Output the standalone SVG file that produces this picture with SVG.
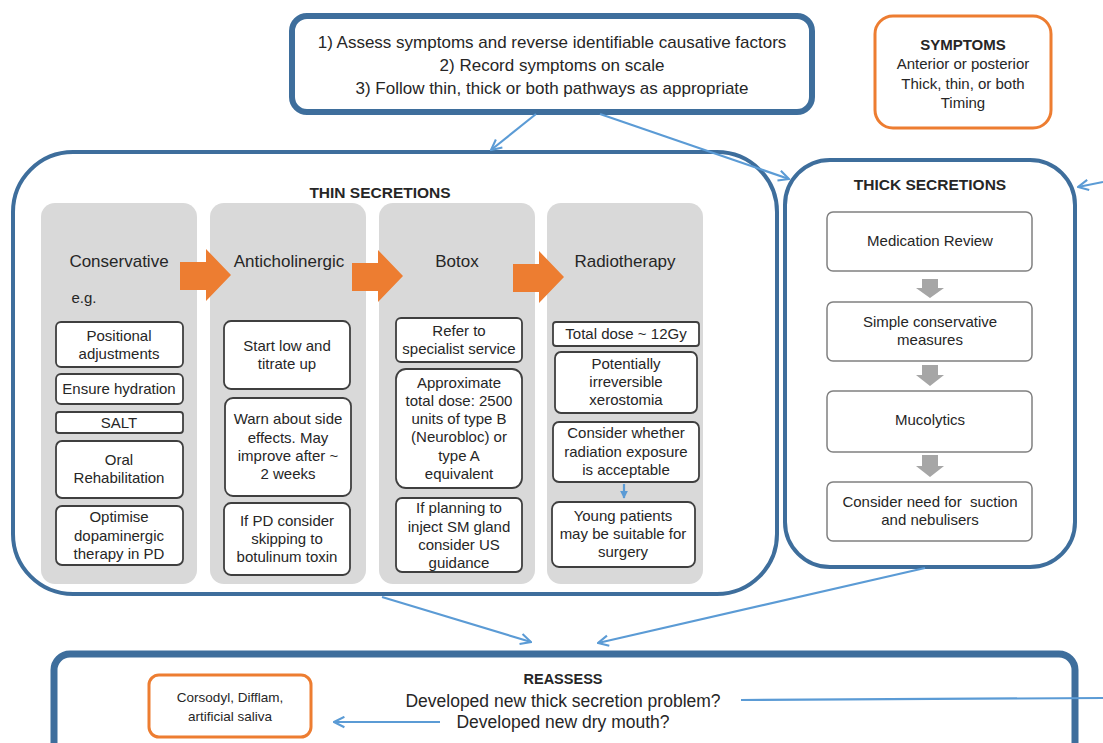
<svg xmlns="http://www.w3.org/2000/svg" width="1103" height="743" viewBox="0 0 1103 743">
<defs>
<style>
text{font-family:"Liberation Sans",Arial,sans-serif;fill:#262626;text-anchor:middle}
.big{font-size:17px}
.sym{font-size:15px}
.b{font-weight:bold}
.col{font-size:17px}
.in{font-size:15px}
.sm{font-size:13.5px}
.navy{fill:#fff;stroke:#3e6e9c}
.orng{fill:#fff;stroke:#ed7d31;stroke-width:3}
.grey{fill:#d9d9d9;stroke:none}
.ib{fill:#fff;stroke:#3f3f3f;stroke-width:1.8}
.tb{fill:#fff;stroke:#808080;stroke-width:1.5}
.con{fill:none;stroke:#5b9bd5;stroke-width:2.2}
.oa{fill:#ed7d31}
.ga{fill:#a6a6a6}
</style>
<marker id="ah" viewBox="0 0 10 10" refX="9" refY="5" markerWidth="13" markerHeight="13" markerUnits="userSpaceOnUse" orient="auto">
<path d="M1,1 L9,5 L1,9" fill="none" stroke="#5b9bd5" stroke-width="1.6"/>
</marker>
<marker id="ahf" viewBox="0 0 10 10" refX="9" refY="5" markerWidth="8" markerHeight="8" markerUnits="userSpaceOnUse" orient="auto">
<path d="M0,0 L10,5 L0,10 Z" fill="#5b9bd5"/>
</marker>
<path id="oarrow" d="M0,13 L26,13 L26,0 L51,26 L26,52 L26,41 L0,41 Z"/>
</defs>

<g id="top">
<rect class="navy" x="292" y="16" width="520" height="96" rx="15" stroke-width="6"/>
<text class="big" x="552" y="48">1) Assess symptoms and reverse identifiable causative factors</text>
<text class="big" x="552" y="71">2) Record symptoms on scale</text>
<text class="big" x="552" y="94">3) Follow thin, thick or both pathways as appropriate</text>
</g>

<g id="symptoms">
<rect class="orng" x="875" y="16" width="176" height="112" rx="18"/>
<text class="sym b" x="963" y="50">SYMPTOMS</text>
<text class="sym" x="963" y="69">Anterior or posterior</text>
<text class="sym" x="963" y="89">Thick, thin, or both</text>
<text class="sym" x="963" y="108">Timing</text>
</g>

<g id="thin">
<rect class="navy" x="13" y="152" width="764" height="442" rx="60" stroke-width="4"/>
<text class="b" x="380" y="198" style="font-size:15.5px">THIN SECRETIONS</text>
<rect class="grey" x="41" y="203" width="156" height="381" rx="14"/>
<rect class="grey" x="210" y="203" width="156" height="381" rx="14"/>
<rect class="grey" x="379" y="203" width="156" height="381" rx="14"/>
<rect class="grey" x="547" y="203" width="156" height="381" rx="14"/>
<use href="#oarrow" class="oa" x="180" y="249"/>
<use href="#oarrow" class="oa" x="352" y="250"/>
<use href="#oarrow" class="oa" x="513" y="251"/>
</g>

<g id="conservative">
<text class="col" x="119" y="267">Conservative</text>
<text class="in" x="84" y="303">e.g.</text>
<rect class="ib" x="56" y="322" width="127" height="45" rx="5"/>
<text class="in" x="119" y="341">Positional</text>
<text class="in" x="119" y="359">adjustments</text>
<rect class="ib" x="56" y="374" width="127" height="30" rx="5"/>
<text class="in" x="119" y="394">Ensure hydration</text>
<rect class="ib" x="56" y="412" width="127" height="21" rx="3"/>
<text class="in" x="119" y="428">SALT</text>
<rect class="ib" x="56" y="441" width="127" height="57" rx="6"/>
<text class="in" x="119" y="465">Oral</text>
<text class="in" x="119" y="483">Rehabilitation</text>
<rect class="ib" x="56" y="506" width="127" height="59" rx="6"/>
<text class="in" x="119" y="522">Optimise</text>
<text class="in" x="119" y="541">dopaminergic</text>
<text class="in" x="119" y="559">therapy in PD</text>
</g>

<g id="anticholinergic">
<text class="col" x="289" y="267">Anticholinergic</text>
<rect class="ib" x="224" y="321" width="126" height="68" rx="7"/>
<text class="in" x="287" y="351">Start low and</text>
<text class="in" x="287" y="369">titrate up</text>
<rect class="ib" x="225" y="398" width="126" height="98" rx="8"/>
<text class="in" x="288" y="424">Warn about side</text>
<text class="in" x="288" y="443">effects. May</text>
<text class="in" x="288" y="461">improve after ~</text>
<text class="in" x="288" y="479">2 weeks</text>
<rect class="ib" x="224" y="503" width="126" height="72" rx="7"/>
<text class="in" x="287" y="526">If PD consider</text>
<text class="in" x="287" y="544">skipping to</text>
<text class="in" x="287" y="562">botulinum toxin</text>
</g>

<g id="botox">
<text class="col" x="457" y="267">Botox</text>
<rect class="ib" x="396" y="318" width="126" height="44" rx="5"/>
<text class="in" x="459" y="336">Refer to</text>
<text class="in" x="459" y="354">specialist service</text>
<rect class="ib" x="396" y="369" width="126" height="119" rx="10"/>
<text class="in" x="459" y="388">Approximate</text>
<text class="in" x="459" y="406">total dose: 2500</text>
<text class="in" x="459" y="424">units of type B</text>
<text class="in" x="459" y="442">(Neurobloc) or</text>
<text class="in" x="459" y="461">type A</text>
<text class="in" x="459" y="479">equivalent</text>
<rect class="ib" x="396" y="498" width="126" height="74" rx="6"/>
<text class="in" x="459" y="513">If planning to</text>
<text class="in" x="459" y="532">inject SM gland</text>
<text class="in" x="459" y="550">consider US</text>
<text class="in" x="459" y="568">guidance</text>
</g>

<g id="radiotherapy">
<text class="col" x="625" y="267">Radiotherapy</text>
<rect class="ib" x="553" y="322" width="146" height="24" rx="3"/>
<text class="in" x="626" y="339">Total dose ~ 12Gy</text>
<rect class="ib" x="555" y="352" width="142" height="61" rx="6"/>
<text class="in" x="626" y="369">Potentially</text>
<text class="in" x="626" y="387">irreversible</text>
<text class="in" x="626" y="405">xerostomia</text>
<rect class="ib" x="553" y="422" width="146" height="60" rx="6"/>
<text class="in" x="626" y="438">Consider whether</text>
<text class="in" x="626" y="457">radiation exposure</text>
<text class="in" x="626" y="475">is acceptable</text>
<rect class="ib" x="552" y="502" width="143" height="65" rx="7"/>
<text class="in" x="623" y="521">Young patients</text>
<text class="in" x="623" y="539">may be suitable for</text>
<text class="in" x="623" y="557">surgery</text>
</g>

<g id="thick">
<rect class="navy" x="785" y="160" width="290" height="407" rx="45" stroke-width="4"/>
<text class="b" x="930" y="190" style="font-size:15.5px">THICK SECRETIONS</text>
<rect class="tb" x="827" y="212" width="205" height="59" rx="6"/>
<text class="in" x="930" y="246">Medication Review</text>
<rect class="tb" x="827" y="302" width="205" height="59" rx="6"/>
<text class="in" x="930" y="327">Simple conservative</text>
<text class="in" x="930" y="345">measures</text>
<rect class="tb" x="827" y="391" width="205" height="61" rx="6"/>
<text class="in" x="930" y="425">Mucolytics</text>
<rect class="tb" x="827" y="482" width="205" height="59" rx="6"/>
<text class="in" x="930" y="507" xml:space="preserve">Consider need for  suction</text>
<text class="in" x="930" y="525">and nebulisers</text>
<polygon class="ga" points="922,279 938,279 938,288 944,288 930,298 916,288 922,288"/>
<polygon class="ga" points="922,365 938,365 938,375 944,375 930,386 916,375 922,375"/>
<polygon class="ga" points="922,455 938,455 938,466 944,466 930,477 916,466 922,466"/>
</g>

<g id="reassess">
<rect class="navy" x="54" y="654" width="1021" height="120" rx="16" stroke-width="7"/>
<text class="b" x="563" y="684" style="font-size:14.5px">REASSESS</text>
<text class="big" x="563" y="707" style="font-size:17.5px">Developed new thick secretion problem?</text>
<text class="big" x="563" y="728" style="font-size:17.5px">Developed new dry mouth?</text>
</g>

<g id="mouthcare">
<rect class="orng" x="149" y="675" width="162" height="62" rx="10"/>
<text class="sm" x="230" y="702">Corsodyl, Difflam,</text>
<text class="sm" x="230" y="721">artificial saliva</text>
</g>

<g id="connectors">
<line class="con" x1="536" y1="114" x2="491" y2="150" marker-end="url(#ah)"/>
<line class="con" x1="600" y1="114" x2="789" y2="179" marker-end="url(#ah)"/>
<line class="con" x1="382" y1="597" x2="531" y2="642" marker-end="url(#ah)"/>
<line class="con" x1="925" y1="568" x2="598" y2="643" marker-end="url(#ah)"/>
<line class="con" x1="741" y1="700" x2="1103" y2="698"/>
<line class="con" x1="1103" y1="182" x2="1078" y2="187" marker-end="url(#ah)"/>
<line class="con" x1="440" y1="722" x2="334" y2="722" marker-end="url(#ah)"/>
<line class="con" x1="624" y1="484" x2="624" y2="498" stroke-width="1.5" marker-end="url(#ahf)"/>
</g>
</svg>
